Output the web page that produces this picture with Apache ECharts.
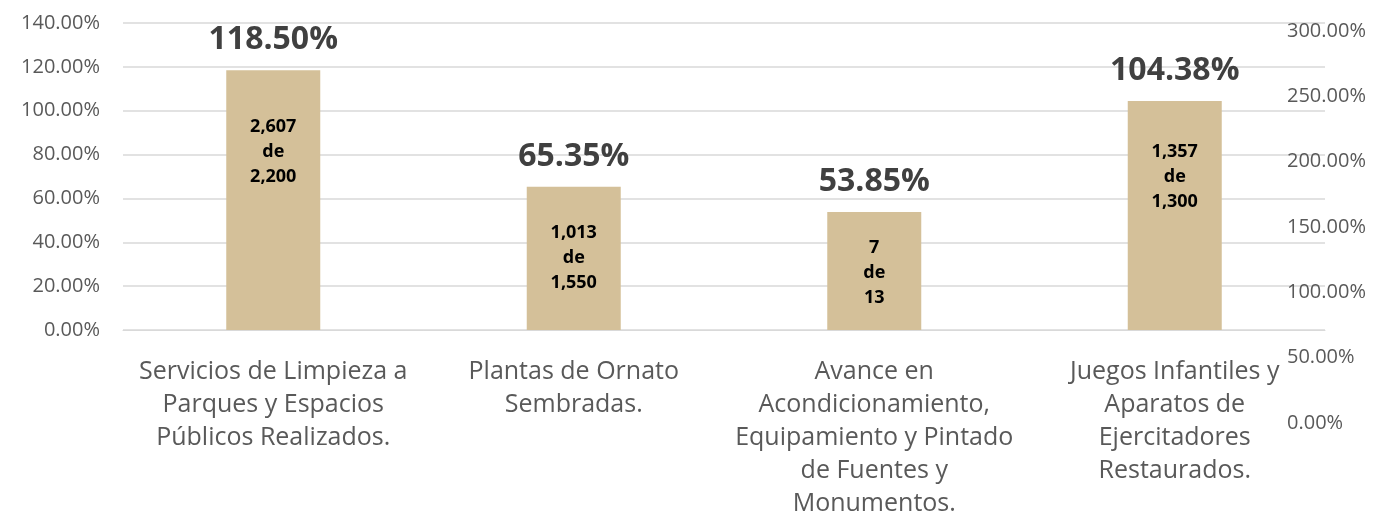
<!DOCTYPE html>
<html>
<head>
<meta charset="utf-8">
<script src="https://cdn.jsdelivr.net/npm/echarts@6/dist/echarts.min.js"></script>
<style>
  html, body { margin: 0; padding: 0; background: #fff; }
  #chart { width: 1375px; height: 521px; }
</style>
</head>
<body>
<div id="chart"></div>
<script>
var categories = [
    'Servicios de Limpieza a\nParques y Espacios\nPúblicos Realizados.',
    'Plantas de Ornato\nSembradas.',
    'Avance en\nAcondicionamiento,\nEquipamiento y Pintado\nde Fuentes y\nMonumentos.',
    'Juegos Infantiles y\nAparatos de\nEjercitadores\nRestaurados.'
];
var avance = [1.185, 0.6535, 0.5385, 1.0438];   // porcentaje alcanzado
var realizado = [2607, 1013, 7, 1357];
var meta = [2200, 1550, 13, 1300];

var barColor = '#d4c099';
var textGray = '#595959';
var fontName = 'Open Sans';

// desplazamiento vertical de la etiqueta interior (px)
var innerShift = [-48, 0, 2, -39];

var myChart = echarts.init(document.getElementById('chart'));

var innerData = avance.map(function (v, i) {
    return {
        value: v,
        label: { offset: [0, innerShift[i]] }
    };
});

var option = {
    animation: false,
    grid: [
        { left: 123, right: 50, top: 23, bottom: 191 },
        { left: 1287, right: 0, top: 31, bottom: 98 }
    ],
    xAxis: [{
        type: 'category',
        gridIndex: 0,
        data: categories,
        axisLine: { show: true, lineStyle: { color: '#d9d9d9', width: 1 } },
        axisTick: { show: false },
        axisLabel: {
            color: textGray,
            fontFamily: fontName,
            fontSize: 25,
            lineHeight: 33,
            margin: 25,
            interval: 0
        }
    }, {
        type: 'category',
        gridIndex: 1,
        data: categories,
        show: false
    }],
    yAxis: [{
        type: 'value',
        gridIndex: 0,
        min: 0,
        max: 1.4,
        interval: 0.2,
        axisLine: { show: false },
        axisTick: { show: false },
        splitLine: { lineStyle: { color: '#d9d9d9', width: 1.5 } },
        axisLabel: {
            color: textGray,
            fontFamily: fontName,
            fontSize: 20,
            margin: 23,
            formatter: function (v) { return (v * 100).toFixed(2) + '%'; }
        }
    }, {
        type: 'value',
        gridIndex: 1,
        position: 'left',
        min: 0,
        max: 3,
        interval: 0.5,
        axisLine: { show: false },
        axisTick: { show: false },
        splitLine: { show: false },
        axisLabel: {
            inside: true,
            margin: 0,
            align: 'left',
            color: textGray,
            fontFamily: fontName,
            fontSize: 20,
            formatter: function (v) { return (v * 100).toFixed(2) + '%'; }
        }
    }],
    series: [{
        name: 'Avance',
        type: 'bar',
        xAxisIndex: 0,
        yAxisIndex: 0,
        barWidth: 94,
        data: avance,
        itemStyle: { color: barColor },
        label: {
            show: true,
            position: 'top',
            distance: 14,
            color: '#404040',
            fontFamily: fontName,
            fontWeight: 'bold',
            fontSize: 32,
            formatter: function (p) { return (p.value * 100).toFixed(2) + '%'; }
        }
    }, {
        name: 'Detalle',
        type: 'bar',
        xAxisIndex: 0,
        yAxisIndex: 0,
        barWidth: 94,
        barGap: '-100%',
        data: innerData,
        itemStyle: { color: 'rgba(0,0,0,0)' },
        label: {
            show: true,
            position: 'inside',
            color: '#000',
            fontFamily: fontName,
            fontWeight: 'bold',
            fontSize: 18,
            lineHeight: 25,
            formatter: function (p) {
                var i = p.dataIndex;
                return realizado[i].toLocaleString('en-US') + '\nde\n' + meta[i].toLocaleString('en-US');
            }
        }
    }]
};

myChart.setOption(option);
</script>
</body>
</html>
